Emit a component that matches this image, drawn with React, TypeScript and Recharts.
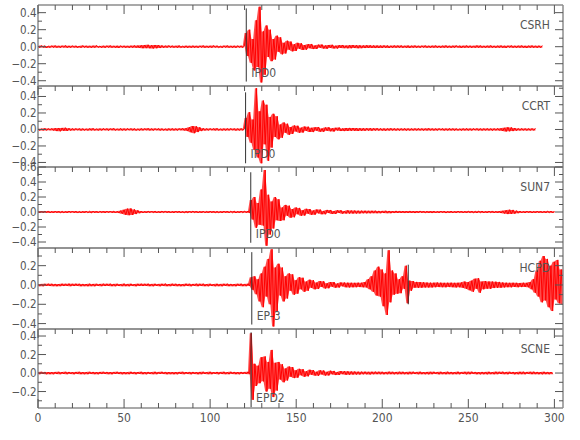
import React from 'react';
import { ComposedChart, Line, Area, XAxis, YAxis, ReferenceLine } from 'recharts';

// ---------- data (trace amplitudes in thousandths, one sample per second) ----------
const MILLI = 0.001;
const SAMPLE_STEP = 1;

const CSRH = [
  10,-12,13,-9,11,-14,9,-11,12,-10,
  13,-11,10,-13,12,-9,14,-12,10,-11,
  12,-10,11,-13,9,-12,13,-10,11,-12,
  10,-13,12,-11,14,-10,9,-12,11,-13,
  12,-10,13,-11,10,-12,11,-14,12,-10,
  11,-12,10,-13,12,-11,14,-12,13,-15,
  16,-18,20,-17,22,-19,18,-21,20,-18,
  19,-16,15,-13,12,-11,13,-10,12,-11,
  10,-12,13,-11,9,-12,11,-13,10,-12,
  12,-11,10,-13,11,-9,13,-12,10,-11,
  11,-12,13,-10,12,-11,9,-13,12,-10,
  13,-11,10,-12,11,-13,12,-10,11,-12,
  12,160,-110,200,-190,90,-280,310,-240,470,
  -420,180,-330,250,-120,200,-170,90,-150,130,
  -60,110,-90,45,-80,70,-35,60,-55,30,
  -50,45,-25,40,-38,20,-35,30,-18,32,
  -28,15,-26,24,-12,25,-22,14,-24,20,
  -15,22,-20,12,-21,18,-14,20,-17,13,
  -19,17,-18,19,-16,17,-18,16,-17,15,
  -16,17,-15,16,-14,15,-16,14,-15,13,
  -14,15,-13,14,-15,12,-13,14,-12,13,
  -12,14,-13,11,-12,13,-14,12,-11,13,
  -12,11,-13,12,-10,13,-12,11,-13,12,
  -11,13,-12,10,-13,12,-11,14,-12,11,
  -13,12,-11,13,-10,12,-14,11,-12,13,
  -11,12,-13,10,-12,14,-11,13,-12,10,
  -13,12,-11,14,-12,10,-13,12,-11,13,
  -12,11,-14,12,-10,13,-12,11,-13,12,
  -11,13,-12,10,-14,12,-11,13,-12,11,
  -13,12,-11,12,
];

const CCRT = [
  11,-13,10,-12,14,-11,12,-10,13,-12,
  16,-20,18,-22,19,-17,21,-18,15,-14,
  12,-11,13,-10,12,-14,11,-12,10,-13,
  12,-11,14,-12,10,-13,11,-12,13,-10,
  12,-13,11,-10,14,-12,10,-11,13,-12,
  11,-13,12,-10,13,-11,12,-14,10,-12,
  13,-11,12,-10,14,-12,11,-13,12,-10,
  12,-13,11,-12,10,-14,12,-11,13,-12,
  11,-12,13,-10,14,-12,16,-20,28,-35,
  42,-45,38,-32,26,-20,15,-13,12,-11,
  13,-10,12,-11,14,-12,10,-13,11,-12,
  12,-11,13,-10,12,-14,11,-12,13,-11,
  12,140,-90,210,-160,120,-250,500,-340,220,
  -410,350,-180,300,-380,150,-220,190,-90,160,
  -120,60,-100,85,-40,70,-65,30,-55,48,
  -25,45,-40,22,-38,35,-18,34,-30,20,
  -32,26,-15,30,-27,12,-28,24,-16,26,
  -22,14,-25,20,-12,23,-19,13,-20,18,
  -18,19,-17,18,-16,17,-18,16,-17,15,
  -16,15,-14,16,-15,14,-13,15,-14,13,
  -14,13,-15,12,-13,14,-12,13,-14,12,
  -13,12,-11,13,-14,12,-13,11,-12,13,
  -12,13,-11,12,-13,11,-12,14,-11,12,
  -13,11,-12,13,-10,12,-13,11,-12,13,
  -11,12,-13,11,-12,10,-13,12,-11,13,
  -12,11,-13,12,-10,13,-12,11,-13,12,
  -11,13,-12,11,-14,12,-11,13,-12,14,
  -18,20,-24,26,-22,25,-20,18,-15,13,
  -12,13,-11,12,-13,11,-12,13,-11,12,
];

const SUN7 = [
  11,-12,13,-10,12,-11,14,-12,10,-13,
  12,-11,13,-12,10,-12,11,-13,12,-10,
  13,-11,12,-14,10,-12,11,-13,12,-11,
  10,-13,12,-11,13,-12,11,-10,13,-12,
  12,-11,13,-10,12,-13,11,-14,18,-22,
  30,-38,45,-42,48,-40,35,-28,22,-16,
  13,-12,11,-13,12,-10,13,-11,12,-12,
  11,-13,12,-10,14,-11,12,-13,10,-12,
  13,-11,12,-12,11,-13,10,-12,13,-11,
  12,-10,13,-12,11,-13,12,-11,10,-13,
  12,-11,13,-12,10,-12,11,-13,12,-11,
  13,-12,11,-10,12,-13,11,-12,13,-10,
  12,-11,13,-12,160,-100,200,-210,120,-170,
  300,-180,560,-450,230,-300,140,-220,200,-110,
  170,-120,60,-110,95,-50,85,-75,40,-70,
  60,-30,55,-50,25,-48,42,-22,40,-38,
  20,-36,33,-18,32,-30,15,-30,28,-14,
  27,-25,12,-26,24,-13,23,-22,12,-21,
  22,-21,20,-21,19,-20,18,-19,18,-17,
  17,-18,16,-17,16,-15,17,-16,15,-16,
  15,-14,16,-15,14,-15,13,-14,15,-13,
  14,-13,12,-14,13,-12,14,-13,12,-14,
  13,-12,14,-11,13,-12,11,-13,12,-14,
  12,-13,11,-12,13,-11,12,-14,11,-12,
  13,-12,11,-13,12,-10,13,-12,11,-13,
  12,-11,13,-12,10,-13,12,-11,13,-12,
  11,-13,12,-11,14,-12,11,-13,12,-14,
  16,-20,24,-28,30,-26,28,-22,18,-15,
  13,-12,11,-13,12,-11,13,-12,10,-13,
  12,-11,13,-12,11,-13,12,-10,13,-12,
  11,
];

const HCPD = [
  10,-12,11,-13,12,-10,13,-11,12,-12,
  11,-13,10,-12,13,-11,12,-10,14,-12,
  12,-11,13,-10,12,-13,11,-12,10,-13,
  13,-12,11,-13,12,-10,11,-12,13,-11,
  12,-10,13,-12,11,-13,12,-11,10,-12,
  14,-12,11,-13,12,-11,10,-13,12,-11,
  13,-11,12,-10,13,-12,11,-13,12,-10,
  11,-13,12,-11,14,-12,10,-12,13,-11,
  12,-12,11,-13,10,-12,13,-11,12,-13,
  11,-10,13,-12,12,-11,13,-12,10,-13,
  12,-11,10,-13,12,-12,11,-13,12,-10,
  13,-12,11,-12,10,-13,12,-11,13,-12,
  11,-12,13,-11,80,-50,90,-95,60,-170,
  120,-230,190,-120,270,-200,370,-430,180,-270,
  220,-110,180,-170,90,-140,120,-60,110,-100,
  50,-90,80,-45,75,-70,35,-60,55,-30,
  50,-45,25,-42,40,-20,38,-36,18,-34,
  30,-18,30,-28,15,-27,26,-14,25,-24,
  24,-25,23,-24,22,-23,24,-22,23,-24,
  30,-25,60,-45,90,-70,150,-110,190,-120,
  160,-220,120,-310,360,-180,150,-100,120,-90,
  60,-85,90,-40,200,-190,45,-60,40,-28,
  32,-30,30,-28,28,-26,25,-26,24,-25,
  24,-23,25,-22,24,-23,22,-24,23,-22,
  24,-23,22,-25,23,-24,26,-30,35,-40,
  30,-55,45,-70,65,-40,70,-80,35,-45,
  40,-38,36,-40,35,-32,34,-30,32,-28,
  26,-25,24,-23,22,-24,23,-21,22,-23,
  21,-22,23,-20,22,-24,30,-45,60,-80,
  150,-120,250,-180,300,-160,270,-230,200,-270,
  240,-150,260,-190,160,-200,
];

const SCNE = [
  11,-12,13,-10,12,-13,11,-12,10,-13,
  12,-11,13,-12,11,-10,13,-12,12,-11,
  10,-13,12,-11,13,-12,11,-13,10,-12,
  13,-11,12,-12,10,-13,12,-11,13,-10,
  12,-12,11,-13,12,-10,13,-11,12,-13,
  11,-12,10,-12,13,-11,12,-13,11,-10,
  13,-12,11,-13,12,-11,10,-12,13,-12,
  12,-10,13,-11,12,-13,11,-12,10,-13,
  11,-13,12,-10,13,-12,11,-11,12,-13,
  12,-11,10,-13,12,-12,13,-10,11,-12,
  13,-12,11,-10,12,-13,12,-11,13,-12,
  10,-12,13,-11,12,-12,11,-13,12,-11,
  12,-11,13,-12,430,-290,100,-140,80,-110,
  170,-90,180,-200,120,-170,250,-260,110,-190,
  120,-70,95,-100,50,-80,70,-40,65,-55,
  30,-50,45,-25,42,-40,20,-36,35,-18,
  32,-28,14,-30,29,-15,28,-27,13,-26,
  25,-14,23,-22,12,-21,21,-12,20,-19,
  18,-18,17,-17,16,-16,15,-16,15,-14,
  15,-14,13,-15,14,-13,15,-12,14,-13,
  13,-14,12,-13,15,-12,13,-14,12,-13,
  14,-12,13,-13,12,-14,13,-12,14,-11,
  12,-13,14,-12,11,-13,12,-14,13,-12,
  13,-11,12,-14,13,-12,11,-13,14,-12,
  12,-13,11,-12,14,-13,12,-11,13,-14,
  13,-12,14,-11,12,-13,11,-14,12,-13,
  12,-14,13,-12,11,-13,14,-12,13,-11,
  14,-12,12,-13,13,-11,12,-14,11,-13,
  13,-12,14,-13,12,-11,13,-12,14,-12,
  12,-13,11,-14,13,-12,12,-13,11,-12,
];

const TRACES = [CSRH, CCRT, SUN7, HCPD, SCNE];
const STATIONS = ['CSRH', 'CCRT', 'SUN7', 'HCPD', 'SCNE'];
const PHASES = ['IPD0', 'IPD0', 'IPD0', 'EP-3', 'EPD2'];
const PICK_TIMES = [121, 120.6, 123.6, 124.2, 123.8];
const PICK_TOP = [0.45, 0.45, 0.53, 0.34, 0.44];
const PICK_BOTTOM = [-0.41, -0.41, -0.41, -0.41, -0.37];
const EXTRA_PICK_PANEL = 3;
const EXTRA_PICK_TIME = 215.1;
const EXTRA_PICK_TOP = 0.21;
const EXTRA_PICK_BOTTOM = -0.2;

const Y_MIN = [-0.462, -0.455, -0.48, -0.456, -0.378];
const Y_MAX = [0.49, 0.527, 0.6, 0.383, 0.476];
const Y_TICKS = [
  [-0.4, -0.3, -0.2, -0.1, 0, 0.1, 0.2, 0.3, 0.4],
  [-0.4, -0.3, -0.2, -0.1, 0, 0.1, 0.2, 0.3, 0.4, 0.5],
  [-0.4, -0.3, -0.2, -0.1, 0, 0.1, 0.2, 0.3, 0.4, 0.5, 0.6],
  [-0.4, -0.3, -0.2, -0.1, 0, 0.1, 0.2, 0.3],
  [-0.3, -0.2, -0.1, 0, 0.1, 0.2, 0.3, 0.4],
];
const Y_LABELS = [-0.4, -0.2, 0, 0.2, 0.4, 0.6];
const X_DOMAIN = [0, 305];
const X_TICKS = [
  0, 10, 20, 30, 40, 50, 60, 70, 80, 90, 100, 110, 120, 130, 140, 150,
  160, 170, 180, 190, 200, 210, 220, 230, 240, 250, 260, 270, 280, 290, 300,
];
const X_LABELS = [0, 50, 100, 150, 200, 250, 300];

// ---------- layout & style ----------
const WIDTH = 580;
const PANEL_TOPS = [5, 86, 167, 248, 329];
const PANEL_BOTTOMS = [86, 167, 248, 329, 408];
const PAD = 12;
const LAST_BOTTOM = 32;
const LEFT_W = 38;
const RIGHT_W = 17;
const FONT = '"Liberation Sans Narrow", "DejaVu Sans Condensed", "Liberation Sans", sans-serif';
const TEXT_COLOR = '#555';
const TICK_COLOR = '#555';
const FRAME = { stroke: '#8c8c8c', strokeWidth: 1.5 };
const TRACE_COLOR = '#ff0000';

const isLabelled = (v: number) => Y_LABELS.some((l) => Math.abs(l - v) < 1e-6);
const fmtY = (v: number) => (Math.abs(v) < 1e-9 ? '0.0' : (v < 0 ? '\u2212' : '') + Math.abs(v).toFixed(1));
const isMajorX = (v: number) => X_LABELS.indexOf(v) >= 0;

const TopTick = (p: any) => (
  <line x1={p.x} y1={p.y} x2={p.x} y2={p.y + (isMajorX(p.payload.value) ? 9 : 5)} stroke={TICK_COLOR} strokeWidth={1} />
);

const BottomTick = (p: any) => {
  const v = p.payload.value;
  const major = isMajorX(v);
  return (
    <g>
      <line x1={p.x} y1={p.y} x2={p.x} y2={p.y - (major ? 9 : 5)} stroke={TICK_COLOR} strokeWidth={1} />
      {major && (
        <text x={p.x} y={p.y + 14} textAnchor="middle" fontFamily={FONT} fontSize={12} fill={TEXT_COLOR}>
          {v}
        </text>
      )}
    </g>
  );
};

const LeftTick = (p: any) => {
  const v = p.payload.value;
  const lab = isLabelled(v);
  return (
    <g>
      <line x1={p.x} y1={p.y} x2={p.x + (lab ? 8 : 4)} y2={p.y} stroke={TICK_COLOR} strokeWidth={1} />
      {lab && (
        <text x={p.x - 1.5} y={p.y + 4} textAnchor="end" fontFamily={FONT} fontSize={11.5} fill={TEXT_COLOR}>
          {fmtY(v)}
        </text>
      )}
    </g>
  );
};

const RightTick = (p: any) => {
  const v = p.payload.value;
  const lab = isLabelled(v);
  return <line x1={p.x} y1={p.y} x2={p.x - (lab ? 8 : 4)} y2={p.y} stroke={TICK_COLOR} strokeWidth={1} />;
};

// Builds the chart table: the sample itself plus the band spanned by it and its neighbour.
const buildTable = (trace: number[]) =>
  trace.map((m, i) => {
    const n = i + 1 < trace.length ? trace[i + 1] : trace[i - 1];
    return {
      t: i * SAMPLE_STEP,
      v: m * MILLI,
      band: [Math.min(m, n) * MILLI, Math.max(m, n) * MILLI],
    };
  });

function Panel({ idx }: { idx: number }) {
  const data = buildTable(TRACES[idx]);
  const isLast = idx === TRACES.length - 1;
  const plotH = PANEL_BOTTOMS[idx] - PANEL_TOPS[idx];
  const bottomH = isLast ? LAST_BOTTOM : PAD;
  const height = PAD + plotH + bottomH;
  const yDomain = [Y_MIN[idx], Y_MAX[idx]];
  const station = STATIONS[idx];
  const phase = PHASES[idx];

  const stationLabel = (props: any) => {
    const vb = props.viewBox || {};
    return (
      <text x={vb.x - 13} y={vb.y + 24} textAnchor="end" fontFamily={FONT} fontSize={12} fill={TEXT_COLOR}>
        {station}
      </text>
    );
  };
  const phaseLabel = (props: any) => {
    const vb = props.viewBox || {};
    return (
      <text x={vb.x + 5} y={vb.y + vb.height - 5} textAnchor="start" fontFamily={FONT} fontSize={12} fill={TEXT_COLOR}>
        {phase}
      </text>
    );
  };

  return (
    <div style={{ position: 'absolute', left: 0, top: PANEL_TOPS[idx] - PAD }}>
      <ComposedChart width={WIDTH} height={height} data={data} margin={{ top: 0, right: 0, bottom: 0, left: 0 }}>
        <XAxis
          xAxisId="top"
          orientation="top"
          type="number"
          dataKey="t"
          domain={X_DOMAIN}
          allowDataOverflow
          ticks={X_TICKS}
          interval={0}
          height={PAD}
          tickSize={0}
          tickMargin={0}
          tickLine={false}
          axisLine={FRAME}
          tick={TopTick}
        />
        <XAxis
          xAxisId="bottom"
          orientation="bottom"
          type="number"
          dataKey="t"
          domain={X_DOMAIN}
          allowDataOverflow
          ticks={X_TICKS}
          interval={0}
          height={bottomH}
          tickSize={0}
          tickMargin={0}
          tickLine={false}
          axisLine={FRAME}
          tick={isLast ? BottomTick : false}
        />
        <YAxis
          yAxisId="left"
          orientation="left"
          type="number"
          domain={yDomain}
          allowDataOverflow
          ticks={Y_TICKS[idx]}
          interval={0}
          width={LEFT_W}
          tickSize={0}
          tickMargin={0}
          tickLine={false}
          axisLine={FRAME}
          tick={LeftTick}
        />
        <YAxis
          yAxisId="right"
          orientation="right"
          type="number"
          domain={yDomain}
          allowDataOverflow
          ticks={Y_TICKS[idx]}
          interval={0}
          width={RIGHT_W}
          tickSize={0}
          tickMargin={0}
          tickLine={false}
          axisLine={FRAME}
          tick={RightTick}
          label={{ content: stationLabel }}
        />
        <Area
          xAxisId="top"
          yAxisId="left"
          type="linear"
          dataKey="band"
          stroke="none"
          fill={TRACE_COLOR}
          fillOpacity={0.7}
          dot={false}
          activeDot={false}
          isAnimationActive={false}
        />
        <Line
          xAxisId="top"
          yAxisId="left"
          type="linear"
          dataKey="v"
          stroke={TRACE_COLOR}
          strokeWidth={1}
          strokeLinejoin="round"
          dot={false}
          activeDot={false}
          isAnimationActive={false}
        />
        <ReferenceLine
          xAxisId="top"
          yAxisId="left"
          segment={[
            { x: PICK_TIMES[idx], y: PICK_TOP[idx] },
            { x: PICK_TIMES[idx], y: PICK_BOTTOM[idx] },
          ]}
          stroke="#333"
          strokeWidth={1}
          label={phaseLabel}
        />
        {idx === EXTRA_PICK_PANEL && (
          <ReferenceLine
            xAxisId="top"
            yAxisId="left"
            segment={[
              { x: EXTRA_PICK_TIME, y: EXTRA_PICK_TOP },
              { x: EXTRA_PICK_TIME, y: EXTRA_PICK_BOTTOM },
            ]}
            stroke="#333"
            strokeWidth={1}
          />
        )}
      </ComposedChart>
    </div>
  );
}

export default function App() {
  return (
    <div style={{ position: 'absolute', left: 0, top: 0, width: WIDTH, height: 440, background: '#fff' }}>
      {TRACES.map((_, i) => (
        <Panel key={STATIONS[i]} idx={i} />
      ))}
    </div>
  );
}
